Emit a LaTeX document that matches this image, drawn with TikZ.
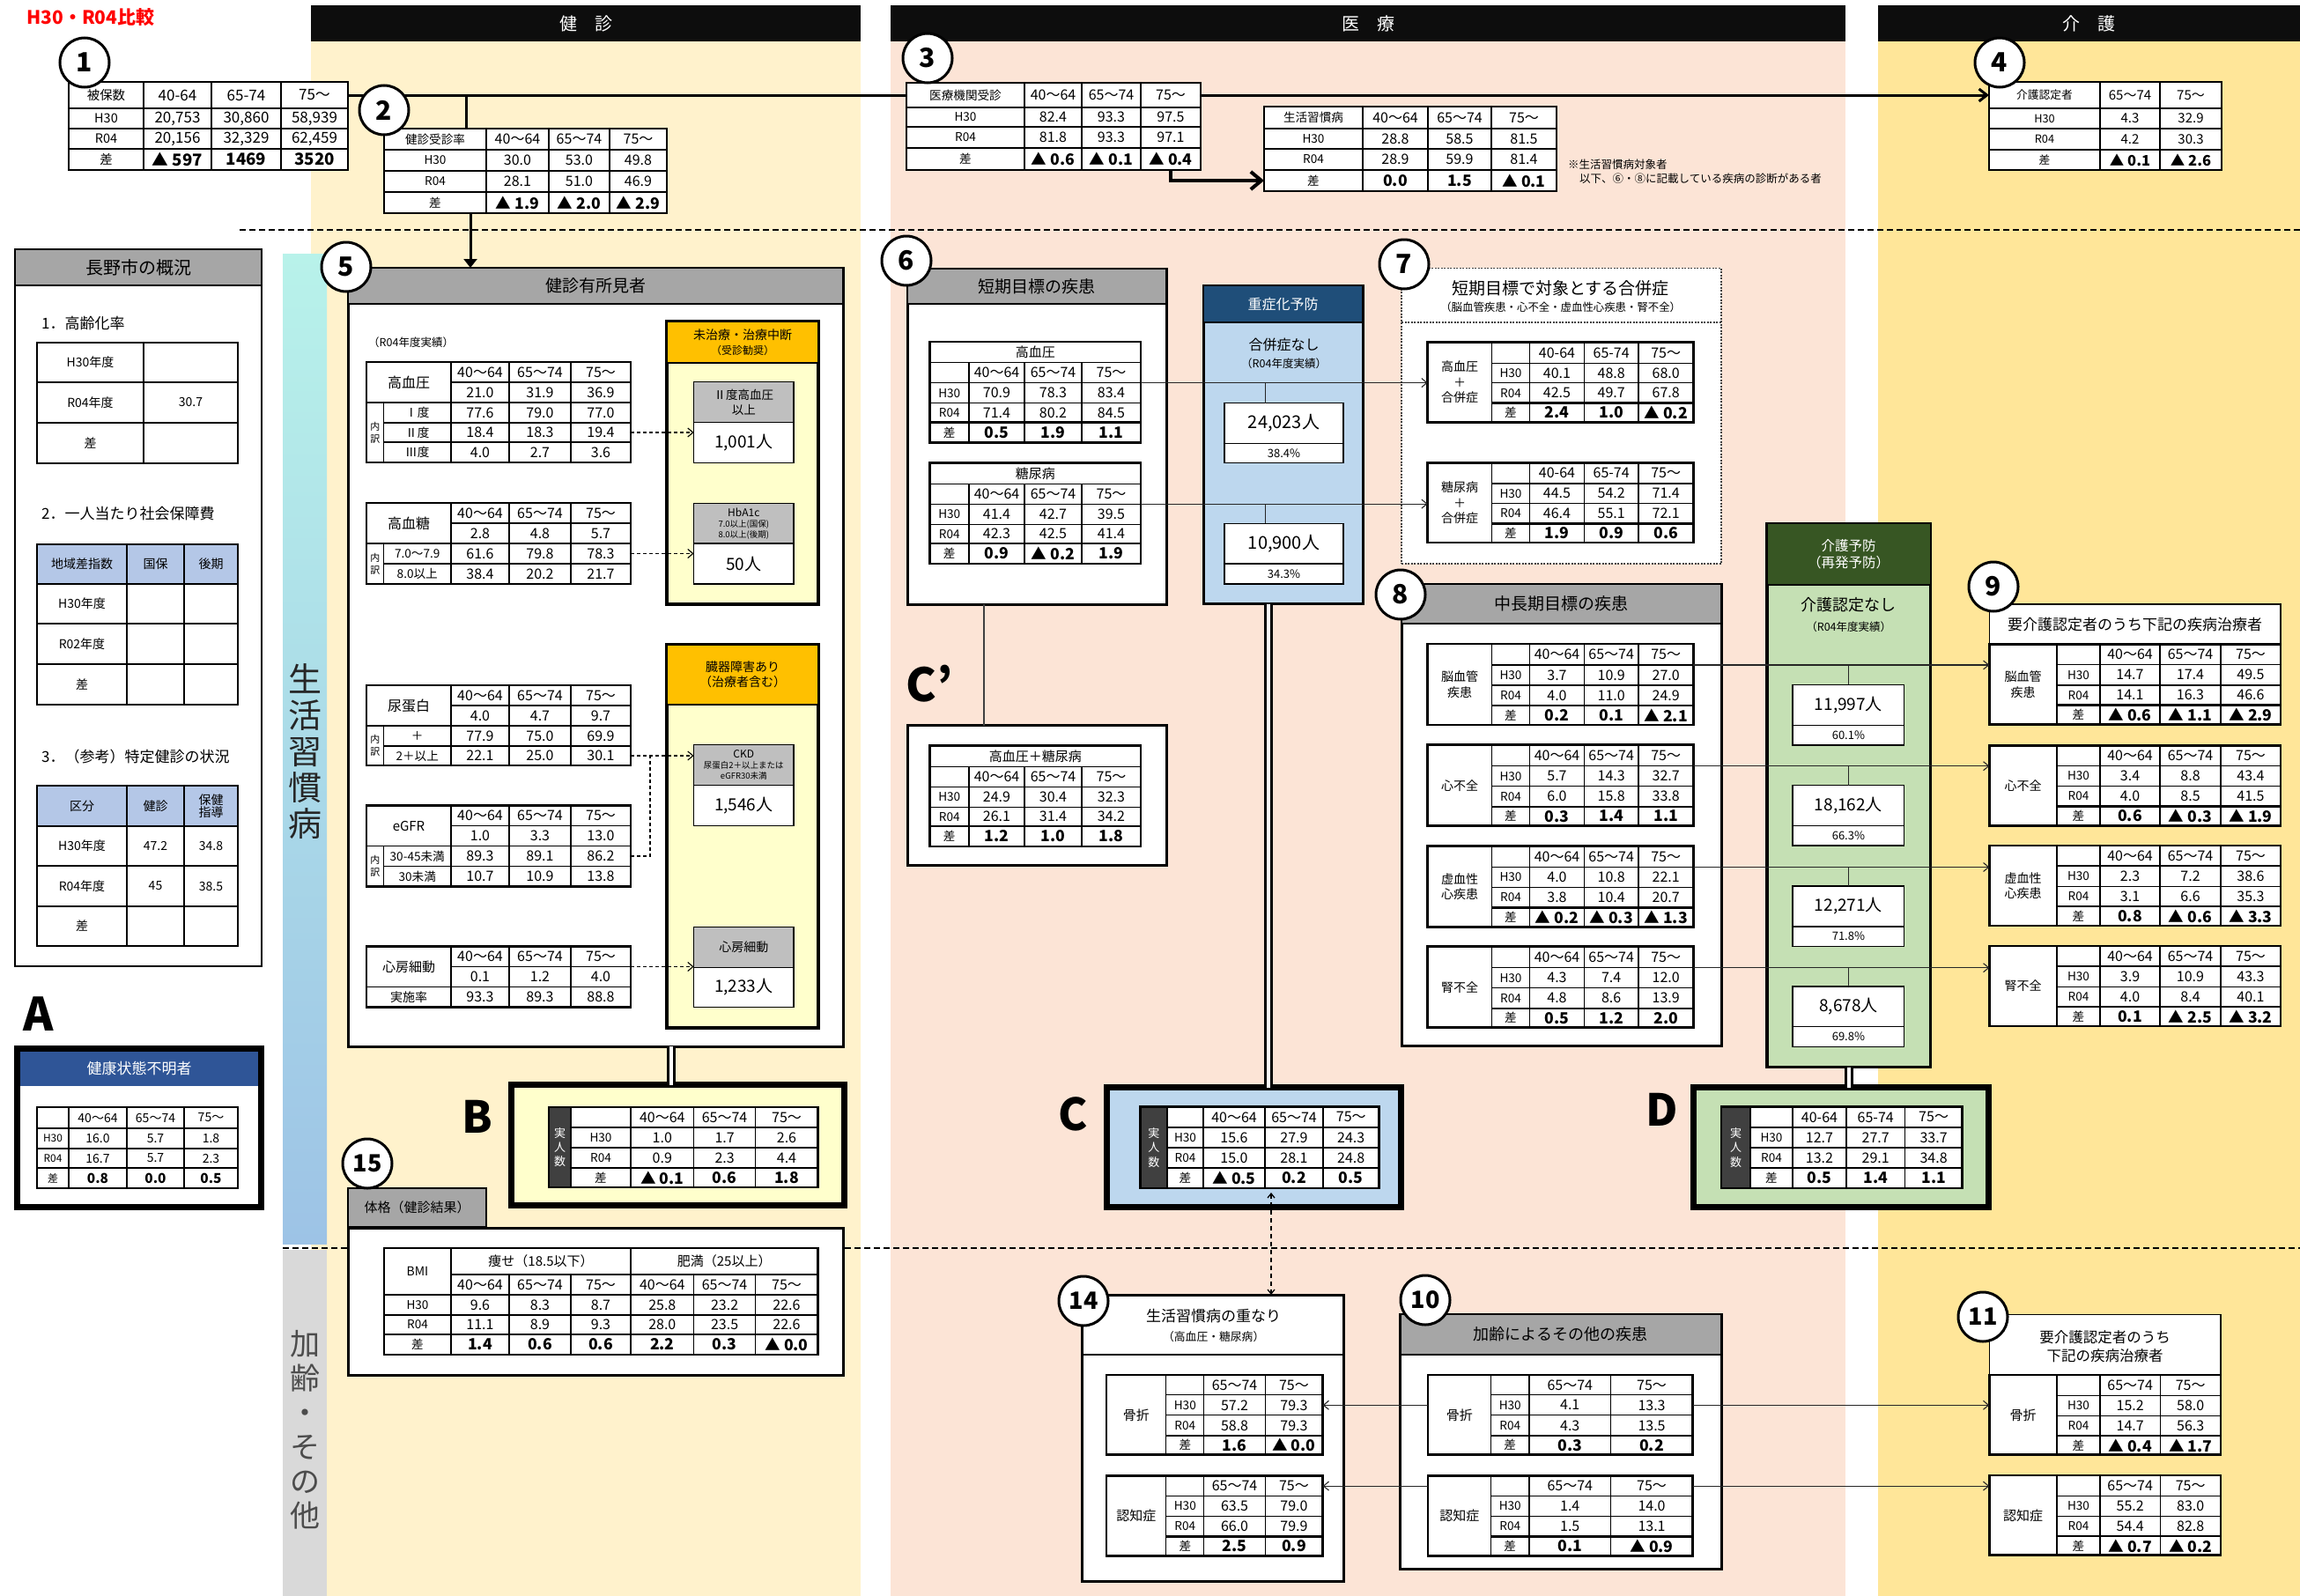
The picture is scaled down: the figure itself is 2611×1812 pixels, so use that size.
\documentclass[tikz,border=0pt]{standalone}
\usepackage{fontspec}
\setmainfont{Noto Sans CJK JP}
\usetikzlibrary{arrows.meta,calc}
\definecolor{bandA}{HTML}{FFF2CC}
\definecolor{bandB}{HTML}{FCE4D6}
\definecolor{bandC}{HTML}{FFE699}
\definecolor{hgrey}{HTML}{A6A6A6}
\definecolor{igrey}{HTML}{BFBFBF}
\definecolor{hblue}{HTML}{B4C7E7}
\definecolor{ablue}{HTML}{2F5597}
\definecolor{zdark}{HTML}{1F4E79}
\definecolor{zlight}{HTML}{BDD7EE}
\definecolor{kdark}{HTML}{375623}
\definecolor{klight}{HTML}{C5E0B4}
\definecolor{orng}{HTML}{FFC000}
\definecolor{lyel}{HTML}{FFFFCC}
\definecolor{dcol}{HTML}{404040}
\definecolor{stripTop}{HTML}{B8F2EA}
\definecolor{stripBot}{HTML}{9DC3E6}
\definecolor{stripGrey}{HTML}{D9D9D9}
\tikzset{
 tcell/.style={draw,line width=1.1pt,inner sep=0pt,outer sep=0pt,align=center},
 tframe/.style={line width=2.6pt},
 tdiff/.style={line width=2.4pt},
 circ/.style={circle,draw,line width=3pt,fill=white,minimum size=56pt,inner sep=0pt,font=\fontsize{30}{30}\selectfont\bfseries},
 hbar/.style={fill=black!95,text=white,font=\fontsize{20}{20}\selectfont,inner sep=0pt,outer sep=0pt,anchor=north west},
 conn/.style={line width=1.1pt,draw=black!85,-{Straight Barb[length=6pt,width=10pt]}},
 dconn/.style={line width=1.1pt,dash pattern=on 4pt off 3pt,-{Straight Barb[length=6pt,width=10pt]}},
 thinline/.style={line width=1.1pt,draw=black!85},
 mainline/.style={line width=3pt},
 dbl/.style={line width=3pt,double=white,double distance=4pt},
 ibox/.style={draw,line width=1.5pt,fill=white},
 hbox/.style={draw,line width=1.5pt,fill=igrey},
}
\def\lscale{0.85}
\def\tblpre{}
% #1 name #2 x0 #3 y0 #4 x bounds #5 y bounds #6 rows #7 size #8 bold row #9 label cols
\newcommand\mtab[9]{%
 \begin{scope}[shift={(#2,#3)}]
  \foreach \v in {#4} {\xdef\lastx{\v}}%
  \foreach \v in {#5} {\xdef\lasty{\v}}%
  \fill[white] (0,0) rectangle (\lastx,\lasty);
  \tblpre
  \pgfmathsetmacro\vsz{#7}\pgfmathsetmacro\bsz{#7*1.1}\pgfmathsetmacro\lsz{#7*\lscale}%
  \foreach \row [count=\r] in {#6} {
   \foreach \cell [count=\c] in \row {
    \expandafter\ifx\expandafter*\cell\relax\else
     \pgfmathsetmacro\xa{{#4}[\c-1]}%
     \pgfmathsetmacro\xb{{#4}[\c]}%
     \pgfmathsetmacro\ya{{#5}[\r-1]}%
     \pgfmathsetmacro\yb{{#5}[\r]}%
     \pgfmathsetmacro\cw{\xb-\xa}%
     \pgfmathsetmacro\ch{\yb-\ya}%
     \ifnum\c>#9\relax
      \ifnum\r=#8\relax \def\tf{\fontsize{\bsz}{\bsz}\selectfont\bfseries}%
      \else \def\tf{\fontsize{\vsz}{\vsz}\selectfont}\fi
     \else \def\tf{\fontsize{\lsz}{\lsz}\selectfont}\fi
     \node[tcell,minimum width=\cw pt,minimum height=\ch pt,font=\tf] (#1-\r-\c) at ({(\xa+\xb)/2},{(\ya+\yb)/2}) {\cell};
    \fi
   }
  }
  \ifnum#8>0\relax
   \pgfmathsetmacro\yd{{#5}[#8-1]}%
   \pgfmathsetmacro\xd{{#4}[#9-1]}%
   \draw[tdiff] (\xd,\yd) -- (\lastx,\yd);
  \fi
  \draw[tframe] (0,0) rectangle (\lastx,\lasty);
 \end{scope}}
\newcommand\mlab[7]{%
 \pgfmathsetmacro\lbs{#7*1.25}%
 \node[tcell,minimum width={#4-#2},minimum height={#5-#3},font=\fontsize{#7}{\lbs}\selectfont] (#1) at ({(#2+#4)/2},{(#3+#5)/2}) {#6};}
\newcommand\rectn[6]{\node[inner sep=0pt,outer sep=0pt,minimum width={#4-#2},minimum height={#5-#3},anchor=north west,#6] (#1) at (#2,#3) {};}
\newcommand\putt[6][]{\pgfmathsetmacro\lbs{#5*1.25}\node[inner sep=0pt,align=center,font=\fontsize{#5}{\lbs}\selectfont,#1] (#2) at (#3,#4) {#6};}
\begin{document}
\begin{tikzpicture}[x=1pt,y=-1pt]
\useasboundingbox (0,0) rectangle (2611,1812);
\fill[white] (0,0) rectangle (2611,1812);
\fill[bandA] (353,47) rectangle (977,1812);
\fill[bandB] (1011,47) rectangle (2095,1812);
\fill[bandC] (2132,47) rectangle (2611,1812);
\node[hbar,minimum width=624pt,minimum height=41pt] (hA) at (353,6) {健　診};
\node[hbar,minimum width=1084pt,minimum height=41pt] (hB) at (1011,6) {医　療};
\node[hbar,minimum width=479pt,minimum height=41pt] (hC) at (2132,6) {介　護};
\putt[anchor=west,text=red]{title}{30}{20}{21}{\bfseries H30・R04比較}
% strips
\shade[top color=stripTop,bottom color=stripBot] (321,288) rectangle (371,1412);
\fill[stripGrey] (321,1419) rectangle (371,1812);
\node[inner sep=0pt,align=center,font=\fontsize{38}{41}\selectfont,text=black!85] (sLife) at (346,853) {生\\活\\習\\慣\\病};
\node[inner sep=0pt,align=center,font=\fontsize{34}{39}\selectfont,text=black!70] (sAge) at (346,1623) {加\\齢\\・\\そ\\の\\他};
\draw[line width=1.3pt,dash pattern=on 7pt off 4pt] (272,261) -- (2611,261);
\draw[line width=1.3pt,dash pattern=on 7pt off 4pt] (321,1417) -- (2611,1417);
% left panel
\rectn{lp}{17}{283}{297}{1097}{draw,line width=2.5pt,fill=white}
\rectn{lph}{17}{283}{297}{324}{draw,line width=2pt,fill=hgrey}
\putt{lpt}{157}{303.5}{20}{長野市の概況}
\putt[anchor=west]{lps1}{47}{367}{17}{1．高齢化率}
{\def\lscale{1}\mtab{tL1}{42}{389}{0,121,228}{0,45,91,137}{{H30年度,{}},{R04年度,30.7},{差,{}}}{14}{0}{1}}
\putt[anchor=west]{lps2}{47}{583}{17}{2．一人当たり社会保障費}
{\def\lscale{1}\def\tblpre{\fill[hblue] (0,0) rectangle (228,45);}\mtab{tL2}{42}{618}{0,102,167,228}{0,45,90,136,182}{{地域差指数,国保,後期},{H30年度,{},{}},{R02年度,{},{}},{差,{},{}}}{14}{0}{1}}
\putt[anchor=west]{lps3}{47}{859}{17}{3．（参考）特定健診の状況}
{\def\lscale{1}\def\tblpre{\fill[hblue] (0,0) rectangle (228,46);}\mtab{tL3}{42}{892}{0,102,167,228}{0,46,91,137,182}{{区分,健診,保健\\指導},{H30年度,47.2,34.8},{R04年度,45,38.5},{差,{},{}}}{14}{0}{1}}
% A
\putt{lA}{44}{1151}{52}{\bfseries A}
\rectn{bA}{19.5}{1190.5}{296.5}{1370.5}{draw,line width=7pt,fill=white}
\rectn{bAh}{23}{1194}{293}{1233}{fill=ablue}
\putt[text=white]{bAt}{158}{1213}{17}{健康状態不明者}
\mtab{tA}{42}{1257}{0,36,102,167,228}{0,24,47,69,92}{{{},40～64,65～74,75～},{H30,16.0,5.7,1.8},{R04,16.7,5.7,2.3},{差,0.8,0.0,0.5}}{14}{4}{1}
% top tables
\mtab{t1}{78}{93}{0,85,162,241,317}{0,30,53,76,100}{{被保数,40-64,65-74,75～},{H30,{20,753},{30,860},{58,939}},{R04,{20,156},{32,329},{62,459}},{差,▲ 597,1469,3520}}{17}{4}{1}
\mtab{t2}{436}{146}{0,116,187,256,321}{0,24,48,72,96}{{健診受診率,40～64,65～74,75～},{H30,30.0,53.0,49.8},{R04,28.1,51.0,46.9},{差,▲ 1.9,▲ 2.0,▲ 2.9}}{16}{4}{1}
\mtab{t3}{1029}{94}{0,134,199,266,334}{0,28,50,74,99}{{医療機関受診,40～64,65～74,75～},{H30,82.4,93.3,97.5},{R04,81.8,93.3,97.1},{差,▲ 0.6,▲ 0.1,▲ 0.4}}{16}{4}{1}
\mtab{tl}{1435}{121}{0,112,186,258,332}{0,25,48,72,96}{{生活習慣病,40～64,65～74,75～},{H30,28.8,58.5,81.5},{R04,28.9,59.9,81.4},{差,0.0,1.5,▲ 0.1}}{16}{4}{1}
\mtab{t4}{2258}{93}{0,126,194,264}{0,30,53,77,100}{{介護認定者,65～74,75～},{H30,4.3,32.9},{R04,4.2,30.3},{差,▲ 0.1,▲ 2.6}}{15}{4}{1}
\putt[anchor=west]{note1}{1780}{187}{12.5}{※生活習慣病対象者}
\putt[anchor=west]{note2}{1793}{203}{12.5}{以下、⑥・⑧に記載している疾病の診断がある者}
% box 5
\rectn{b5}{395}{304}{957}{1188}{draw,line width=3pt,fill=white}
\rectn{b5h}{395}{304}{957}{345}{draw,line width=2pt,fill=hgrey}
\putt{b5t}{676}{324.5}{19}{健診有所見者}
\putt[anchor=west]{b5s}{418}{389}{12.5}{（R04年度実績）}
\mtab{t5a}{416}{411}{0,19.5,96,162,232,300}{0,23,46,69,91,114}{{*,*,40～64,65～74,75～},{*,*,21.0,31.9,36.9},{*,Ⅰ度,77.6,79.0,77.0},{*,Ⅱ度,18.4,18.3,19.4},{*,Ⅲ度,4.0,2.7,3.6}}{16}{0}{2}
\mlab{t5a-L}{416}{411}{512}{457}{高血圧}{16}
\mlab{t5a-U}{416}{457}{435.5}{525}{内\\訳}{11}
\mtab{t5b}{416}{571}{0,19.5,96,162,232,300}{0,23,46,69,92}{{*,*,40～64,65～74,75～},{*,*,2.8,4.8,5.7},{*,7.0～7.9,61.6,79.8,78.3},{*,8.0以上,38.4,20.2,21.7}}{16}{0}{2}
\mlab{t5b-L}{416}{571}{512}{617}{高血糖}{16}
\mlab{t5b-U}{416}{617}{435.5}{663}{内\\訳}{11}
\mtab{t5c}{416}{778}{0,19.5,96,162,232,300}{0,23,46,69,91}{{*,*,40～64,65～74,75～},{*,*,4.0,4.7,9.7},{*,＋,77.9,75.0,69.9},{*,2＋以上,22.1,25.0,30.1}}{16}{0}{2}
\mlab{t5c-L}{416}{778}{512}{824}{尿蛋白}{16}
\mlab{t5c-U}{416}{824}{435.5}{869}{内\\訳}{11}
\mtab{t5d}{416}{914.5}{0,19.5,96,162,232,300}{0,23,46,69,92}{{*,*,40～64,65～74,75～},{*,*,1.0,3.3,13.0},{*,30-45未満,89.3,89.1,86.2},{*,30未満,10.7,10.9,13.8}}{16}{0}{2}
\mlab{t5d-L}{416}{914.5}{512}{960.5}{eGFR}{15}
\mlab{t5d-U}{416}{960.5}{435.5}{1006.5}{内\\訳}{11}
\mtab{t5e}{416}{1074.5}{0,19.5,96,162,232,300}{0,23,46,69}{{*,*,40～64,65～74,75～},{*,*,0.1,1.2,4.0},{*,*,93.3,89.3,88.8}}{16}{0}{2}
\mlab{t5e-L}{416}{1074.5}{512}{1120.5}{心房細動}{15}
\mlab{t5e-U}{416}{1120.5}{512}{1143.5}{実施率}{14}
\rectn{b5r1}{757}{365}{929}{686}{draw,line width=4pt,fill=lyel}
\rectn{b5r1h}{757}{365}{929}{412}{draw,line width=2pt,fill=orng}
\putt{b5r1t}{843}{388.5}{14}{未治療・治療中断\\{\fontsize{12}{14}\selectfont （受診勧奨）}}
\rectn{i5a}{787.6}{433.5}{901}{479.4}{hbox}
\rectn{i5ab}{787.6}{479.4}{901}{525.4}{ibox}
\putt{i5at}{844.3}{456.5}{13.5}{Ⅱ度高血圧\\以上}
\putt{i5abt}{844.3}{502.4}{19}{1,001人}
\rectn{i5b}{787.6}{571.3}{901}{617.2}{hbox}
\rectn{i5bb}{787.6}{617.2}{901}{663}{ibox}
\putt{i5bt}{844.3}{594.3}{9.5}{{\fontsize{12}{12}\selectfont HbA1c}\\7.0以上(国保)\\8.0以上(後期)}
\putt{i5bbt}{844.3}{640.1}{19}{50人}
\rectn{b5r2}{757}{732}{929}{1167}{draw,line width=4pt,fill=lyel}
\rectn{b5r2h}{757}{732}{929}{800}{draw,line width=2pt,fill=orng}
\putt{b5r2t}{843}{766}{14}{臓器障害あり\\（治療者含む）}
\rectn{i5c}{787.6}{845.7}{901}{891.6}{hbox}
\rectn{i5cb}{787.6}{891.6}{901}{937.5}{ibox}
\putt{i5ct}{844.3}{868.6}{9.5}{{\fontsize{12}{12}\selectfont CKD}\\尿蛋白2＋以上または\\eGFR30未満}
\putt{i5cbt}{844.3}{914.5}{19}{1,546人}
\rectn{i5e}{787.6}{1052.3}{901}{1098.3}{hbox}
\rectn{i5eb}{787.6}{1098.3}{901}{1143.6}{ibox}
\putt{i5et}{844.3}{1075.3}{14}{心房細動}
\putt{i5ebt}{844.3}{1121}{19}{1,233人}
% B
\rectn{bB}{580.5}{1231.5}{958.2}{1368.5}{draw,line width=7pt,fill=lyel}
\putt{lB}{542}{1268}{50}{\bfseries B}
\rectn{dB}{623}{1257}{648}{1348}{fill=dcol,draw,line width=2pt}
\putt[text=white]{dBt}{635.5}{1302.5}{13}{実\\人\\数}
\mtab{tB}{648}{1257}{0,68,139.6,209.6,280.4}{0,23,46,69,91}{{{},40～64,65～74,75～},{H30,1.0,1.7,2.6},{R04,0.9,2.3,4.4},{差,▲ 0.1,0.6,1.8}}{16}{4}{1}
\draw[tframe] (623,1257) rectangle (928.4,1348);
% 15
\rectn{b15}{395}{1394}{957}{1561}{draw,line width=3pt,fill=white}
\rectn{b15h}{395}{1349}{552}{1393}{draw,line width=2.5pt,fill=hgrey}
\putt{b15t}{473.5}{1371}{15}{体格（健診結果）}
\mtab{t15}{436}{1417}{0,76,142,212,280,351.6,421.6,492.4}{0,30,53,76,98,121}{{*,*,*,*,*,*,*},{*,40～64,65～74,75～,40～64,65～74,75～},{H30,9.6,8.3,8.7,25.8,23.2,22.6},{R04,11.1,8.9,9.3,28.0,23.5,22.6},{差,1.4,0.6,0.6,2.2,0.3,▲ 0.0}}{16}{5}{1}
\mlab{t15-b}{436}{1417}{512}{1470}{BMI}{14}
\mlab{t15-y}{512}{1417}{716}{1447}{痩せ（18.5以下）}{15}
\mlab{t15-h}{716}{1417}{928.4}{1447}{肥満（25以上）}{15}
% box 6
\rectn{b6}{1030}{305}{1324}{686}{draw,line width=3pt,fill=white}
\rectn{b6h}{1030}{305}{1324}{345}{draw,line width=2pt,fill=hgrey}
\putt{b6t}{1177}{325}{19}{短期目標の疾患}
\mtab{t6a}{1055.5}{388}{0,44.5,107.5,172.5,239.5}{0,23.7,46.6,69.6,91.6,114.6}{{*,*,*,*},{{},40～64,65～74,75～},{H30,70.9,78.3,83.4},{R04,71.4,80.2,84.5},{差,0.5,1.9,1.1}}{16}{5}{1}
\mlab{t6a-T}{1055.5}{388}{1295}{411.7}{高血圧}{15}
\mtab{t6b}{1055.5}{525.5}{0,44.5,107.5,172.5,239.5}{0,23.7,46.6,69.6,91.6,114.6}{{*,*,*,*},{{},40～64,65～74,75～},{H30,41.4,42.7,39.5},{R04,42.3,42.5,41.4},{差,0.9,▲ 0.2,1.9}}{16}{5}{1}
\mlab{t6b-T}{1055.5}{525.5}{1295}{549.2}{糖尿病}{15}
\rectn{bcp}{1030}{823.5}{1324}{982}{draw,line width=3pt,fill=white}
\mtab{tcp}{1055.5}{846.5}{0,44.5,107.5,172.5,239.5}{0,23.7,46.6,69.6,91.6,114.6}{{*,*,*,*},{{},40～64,65～74,75～},{H30,24.9,30.4,32.3},{R04,26.1,31.4,34.2},{差,1.2,1.0,1.8}}{16}{5}{1}
\mlab{tcp-T}{1055.5}{846.5}{1295}{870.2}{高血圧＋糖尿病}{15}
\putt{lcp}{1055}{776}{52}{\bfseries C’}
% 重症化予防
\rectn{bz}{1366}{324.4}{1547}{685.8}{draw,line width=3pt,fill=zlight}
\rectn{bzh}{1366}{324.4}{1547}{365.8}{draw,line width=2pt,fill=zdark}
\putt[text=white]{bzt}{1456.5}{345}{16}{重症化予防}
\putt{bzs}{1457.6}{401}{16}{合併症なし\\{\fontsize{12.5}{14}\selectfont （R04年度実績）}}
\rectn{z1}{1390}{457.6}{1525}{503.5}{ibox}
\rectn{z1p}{1390}{503.5}{1525}{525.5}{ibox}
\putt{z1t}{1457.5}{480.5}{20}{24,023人}
\putt{z1pt}{1457.5}{514.5}{13}{38.4\%}
\rectn{z2}{1390}{594.4}{1525}{640}{ibox}
\rectn{z2p}{1390}{640}{1525}{662.8}{ibox}
\putt{z2t}{1457.5}{617.2}{20}{10,900人}
\putt{z2pt}{1457.5}{651.4}{13}{34.3\%}
% C
\rectn{bC}{1256.1}{1234.5}{1590.5}{1370.5}{draw,line width=7pt,fill=zlight}
\putt{lC}{1218}{1265}{50}{\bfseries C}
\rectn{dC}{1294.7}{1256.7}{1325}{1349}{fill=dcol,draw,line width=2pt}
\putt[text=white]{dCt}{1309.9}{1302.9}{13}{実\\人\\数}
\mtab{tC}{1325}{1256.7}{0,41,111,177,240.5}{0,23.3,46.3,69,92.3}{{{},40～64,65～74,75～},{H30,15.6,27.9,24.3},{R04,15.0,28.1,24.8},{差,▲ 0.5,0.2,0.5}}{16}{4}{1}
\draw[tframe] (1294.7,1256.7) rectangle (1565.5,1349);
% box 7
\rectn{b7}{1591}{304.4}{1954}{640}{draw=black!75,line width=1.5pt,dash pattern=on 2pt off 1.5pt,fill=white}
\draw[black!75,line width=1.5pt,dash pattern=on 2pt off 1.5pt] (1591,365.8) -- (1954,365.8);
\putt{b7t}{1771.7}{327}{19}{短期目標で対象とする合併症}
\putt{b7s}{1771.7}{349}{12.4}{（脳血管疾患・心不全・虚血性心疾患・腎不全）}
\mtab{t7a}{1620.7}{388.7}{0,72.6,116,177.6,239.3,301.6}{0,23.6,46,68.9,90.7}{{*,{},40-64,65-74,75～},{*,H30,40.1,48.8,68.0},{*,R04,42.5,49.7,67.8},{*,差,2.4,1.0,▲ 0.2}}{16}{4}{2}
\mlab{l7a}{1620.7}{388.7}{1693.3}{479.4}{高血圧\\＋\\合併症}{14}
\mtab{t7b}{1620.7}{525.4}{0,72.6,116,177.6,239.3,301.6}{0,23.6,46,68.9,90.7}{{*,{},40-64,65-74,75～},{*,H30,44.5,54.2,71.4},{*,R04,46.4,55.1,72.1},{*,差,1.9,0.9,0.6}}{16}{4}{2}
\mlab{l7b}{1620.7}{525.4}{1693.3}{616.1}{糖尿病\\＋\\合併症}{14}
% box 8
\rectn{b8}{1591}{663}{1954}{1187}{draw,line width=3pt,fill=white}
\rectn{b8h}{1591}{663}{1954}{708}{draw,line width=2pt,fill=hgrey}
\putt{b8t}{1772}{685.5}{19}{中長期目標の疾患}
\mtab{t8a}{1620.7}{731}{0,72.6,116,177.6,239.3,301.6}{0,24,47,70,92}{{*,{},40～64,65～74,75～},{*,H30,3.7,10.9,27.0},{*,R04,4.0,11.0,24.9},{*,差,0.2,0.1,▲ 2.1}}{16}{4}{2}
\mlab{l8a}{1620.7}{731}{1693.3}{823}{脳血管\\疾患}{14}
\mtab{t8b}{1620.7}{845.7}{0,72.6,116,177.6,239.3,301.6}{0,24,47,70,92}{{*,{},40～64,65～74,75～},{*,H30,5.7,14.3,32.7},{*,R04,6.0,15.8,33.8},{*,差,0.3,1.4,1.1}}{16}{4}{2}
\mlab{l8b}{1620.7}{845.7}{1693.3}{937.7}{心不全}{14}
\mtab{t8c}{1620.7}{960.5}{0,72.6,116,177.6,239.3,301.6}{0,24,47,70,92}{{*,{},40～64,65～74,75～},{*,H30,4.0,10.8,22.1},{*,R04,3.8,10.4,20.7},{*,差,▲ 0.2,▲ 0.3,▲ 1.3}}{16}{4}{2}
\mlab{l8c}{1620.7}{960.5}{1693.3}{1052.5}{虚血性\\心疾患}{14}
\mtab{t8d}{1620.7}{1074.7}{0,72.6,116,177.6,239.3,301.6}{0,24,47,70,92}{{*,{},40～64,65～74,75～},{*,H30,4.3,7.4,12.0},{*,R04,4.8,8.6,13.9},{*,差,0.5,1.2,2.0}}{16}{4}{2}
\mlab{l8d}{1620.7}{1074.7}{1693.3}{1166.7}{腎不全}{14}
% 介護予防
\rectn{bk}{2005.8}{594.3}{2191.7}{1211.6}{draw,line width=3.5pt,fill=klight}
\rectn{bkh}{2005.8}{594.3}{2191.7}{664}{draw,line width=2pt,fill=kdark}
\putt[text=white]{bkt}{2098.7}{629}{15.5}{介護予防\\（再発予防）}
\putt{bks}{2098.7}{698}{18}{介護認定なし\\{\fontsize{12.5}{14}\selectfont （R04年度実績）}}
\rectn{k1}{2035}{777.4}{2161.7}{823.4}{ibox}
\rectn{k1p}{2035}{823.4}{2161.7}{845.8}{ibox}
\putt{k1t}{2098.4}{800.4}{19}{11,997人}
\putt{k1pt}{2098.4}{834.6}{13}{60.1\%}
\rectn{k2}{2035}{891.7}{2161.7}{937.7}{ibox}
\rectn{k2p}{2035}{937.7}{2161.7}{960}{ibox}
\putt{k2t}{2098.4}{914.7}{19}{18,162人}
\putt{k2pt}{2098.4}{948.9}{13}{66.3\%}
\rectn{k3}{2035}{1006}{2161.7}{1052}{ibox}
\rectn{k3p}{2035}{1052}{2161.7}{1074.4}{ibox}
\putt{k3t}{2098.4}{1029}{19}{12,271人}
\putt{k3pt}{2098.4}{1063.2}{13}{71.8\%}
\rectn{k4}{2035}{1119.8}{2161.7}{1165.7}{ibox}
\rectn{k4p}{2035}{1165.7}{2161.7}{1188.7}{ibox}
\putt{k4t}{2098.4}{1142.8}{19}{8,678人}
\putt{k4pt}{2098.4}{1177.2}{13}{69.8\%}
% D
\rectn{bD}{1922.5}{1234.5}{2257.2}{1370.5}{draw,line width=7pt,fill=klight}
\putt{lD}{1887}{1260}{50}{\bfseries D}
\rectn{dD}{1954}{1256.7}{1987}{1349}{fill=dcol,draw,line width=2pt}
\putt[text=white]{dDt}{1970.5}{1302.9}{13}{実\\人\\数}
\mtab{tD}{1987}{1256.7}{0,48,109,175.5,240.7}{0,23.3,46.3,69,92.3}{{{},40-64,65-74,75～},{H30,12.7,27.7,33.7},{R04,13.2,29.1,34.8},{差,0.5,1.4,1.1}}{16}{4}{1}
\draw[tframe] (1954,1256.7) rectangle (2227.7,1349);
% 9
\rectn{b9h}{2258.4}{686}{2589}{731.5}{draw,line width=1.5pt,fill=white}
\putt{b9t}{2423.7}{708.8}{17}{要介護認定者のうち下記の疾病治療者}
\mtab{t9a}{2258.4}{731.5}{0,76.6,125.6,193.6,262.6,330.6}{0,23,46.5,69,91}{{*,{},40～64,65～74,75～},{*,H30,14.7,17.4,49.5},{*,R04,14.1,16.3,46.6},{*,差,▲ 0.6,▲ 1.1,▲ 2.9}}{16}{4}{2}
\mlab{l9a}{2258.4}{731.5}{2335}{822.5}{脳血管\\疾患}{14}
\mtab{t9b}{2258.4}{846.3}{0,76.6,125.6,193.6,262.6,330.6}{0,23,46.5,69,91}{{*,{},40～64,65～74,75～},{*,H30,3.4,8.8,43.4},{*,R04,4.0,8.5,41.5},{*,差,0.6,▲ 0.3,▲ 1.9}}{16}{4}{2}
\mlab{l9b}{2258.4}{846.3}{2335}{937.3}{心不全}{14}
\mtab{t9c}{2258.4}{960}{0,76.6,125.6,193.6,262.6,330.6}{0,23,46.5,69,91}{{*,{},40～64,65～74,75～},{*,H30,2.3,7.2,38.6},{*,R04,3.1,6.6,35.3},{*,差,0.8,▲ 0.6,▲ 3.3}}{16}{4}{2}
\mlab{l9c}{2258.4}{960}{2335}{1051}{虚血性\\心疾患}{14}
\mtab{t9d}{2258.4}{1074}{0,76.6,125.6,193.6,262.6,330.6}{0,23,46.5,69,91}{{*,{},40～64,65～74,75～},{*,H30,3.9,10.9,43.3},{*,R04,4.0,8.4,40.1},{*,差,0.1,▲ 2.5,▲ 3.2}}{16}{4}{2}
\mlab{l9d}{2258.4}{1074}{2335}{1165}{腎不全}{14}
% 14
\rectn{b14}{1228}{1470}{1525}{1795}{draw,line width=3pt,fill=white}
\draw[line width=2pt] (1228,1538) -- (1525,1538);
\putt{b14t}{1377.7}{1505}{17}{生活習慣病の重なり\\{\fontsize{12.8}{14}\selectfont （高血圧・糖尿病）}}
\mtab{t14a}{1255.8}{1561}{0,68,111,180.5,245.8}{0,22.8,45.8,68.8,90.6}{{*,{},65～74,75～},{*,H30,57.2,79.3},{*,R04,58.8,79.3},{*,差,1.6,▲ 0.0}}{16}{4}{2}
\mlab{l14a}{1255.8}{1561}{1323.8}{1651.6}{骨折}{15}
\mtab{t14b}{1255.8}{1675.7}{0,68,111,180.5,245.8}{0,22.8,45.8,68.8,90.6}{{*,{},65～74,75～},{*,H30,63.5,79.0},{*,R04,66.0,79.9},{*,差,2.5,0.9}}{16}{4}{2}
\mlab{l14b}{1255.8}{1675.7}{1323.8}{1766.3}{認知症}{15}
% 10
\rectn{b10}{1589.5}{1492}{1954}{1781.7}{draw,line width=3pt,fill=white}
\rectn{b10h}{1589.5}{1492}{1954}{1538}{draw,line width=2pt,fill=hgrey}
\putt{b10t}{1771.7}{1515}{18}{加齢によるその他の疾患}
\mtab{t10a}{1621}{1561}{0,71.5,115,207.5,300.6}{0,22.8,45.8,68.8,90.6}{{*,{},65～74,75～},{*,H30,4.1,13.3},{*,R04,4.3,13.5},{*,差,0.3,0.2}}{16}{4}{2}
\mlab{l10a}{1621}{1561}{1692.5}{1651.6}{骨折}{15}
\mtab{t10b}{1621}{1675.7}{0,71.5,115,207.5,300.6}{0,22.8,45.8,68.8,90.6}{{*,{},65～74,75～},{*,H30,1.4,14.0},{*,R04,1.5,13.1},{*,差,0.1,▲ 0.9}}{16}{4}{2}
\mlab{l10b}{1621}{1675.7}{1692.5}{1766.3}{認知症}{15}
% 11
\rectn{b11h}{2258.3}{1492.7}{2521}{1561}{draw,line width=1.5pt,fill=white}
\putt{b11t}{2389.6}{1528.5}{16.5}{要介護認定者のうち\\下記の疾病治療者}
\mtab{t11a}{2258.3}{1561}{0,76.7,125.7,194,262.7}{0,23.3,46.3,69,90.7}{{*,{},65～74,75～},{*,H30,15.2,58.0},{*,R04,14.7,56.3},{*,差,▲ 0.4,▲ 1.7}}{16}{4}{2}
\mlab{l11a}{2258.3}{1561}{2335}{1651.7}{骨折}{15}
\mtab{t11b}{2258.3}{1675}{0,76.7,125.7,194,262.7}{0,23.3,46.3,69,90.7}{{*,{},65～74,75～},{*,H30,55.2,83.0},{*,R04,54.4,82.8},{*,差,▲ 0.7,▲ 0.2}}{16}{4}{2}
\mlab{l11b}{2258.3}{1675}{2335}{1765.7}{認知症}{15}
% connectors
\coordinate (j1) at (529,0);
\coordinate (a2) at (534,0);
\draw[mainline] (t1-1-4.east) -- (t3-1-1.west);
\draw[mainline,-{Straight Barb[length=9pt,width=14pt]}] (t3-1-4.east) -- (t4-1-1.west);
\draw[mainline] (j1 |- t1-1-4.east) -- (j1 |- t2-1-1.north);
\draw[mainline,-{Triangle[length=10pt,width=15pt]}] (a2 |- t2-4-1.south) -- (a2 |- b5.north);
\draw[line width=4pt,-{Straight Barb[length=12pt,width=20pt]}] (t3-4-4.south) |- (tl-4-1.west);
\draw[dconn] (t5a-4-5.east) -- (t5a-4-5.east -| i5ab.west);
\draw[dconn] (t5b-3-5.east) -- (t5b-3-5.east -| i5bb.west);
\draw[dconn] (t5c-4-5.east) -- (t5c-4-5.east -| i5c.west);
\coordinate (c5d) at (738,0);
\draw[dconn,-] (t5d-3-5.east) -| (c5d |- t5c-4-5.east);
\draw[dconn] (t5e-1-5.south east) -- (t5e-1-5.south east -| i5e.west);
\draw[conn] (t6a-2-4.south east) -- (t6a-2-4.south east -| l7a.west);
\draw[conn] (t6b-2-4.south east) -- (t6b-2-4.south east -| l7b.west);
\coordinate (zx) at (1436.5,0);
\draw[thinline] (zx |- t6a-2-4.south east) -- (zx |- z1.north);
\draw[thinline] (zx |- t6b-2-4.south east) -- (zx |- z2.north);
\coordinate (cpx) at (1117,0);
\draw[line width=1.3pt,black!75] (cpx |- b6.south) -- (cpx |- bcp.north);
\coordinate (bbx) at (762,0);
\draw[dbl] (bbx |- b5.south) -- (bbx |- bB.north);
\coordinate (zcx) at (1440,0);
\draw[dbl] (zcx |- bz.south) -- (zcx |- bC.north);
\draw[dbl] (bk.south) -- (bk.south |- bD.north);
\foreach \s/\k in {a/k1,b/k2,c/k3,d/k4} {
  \draw[conn] (t8\s-1-5.south east) -- (t8\s-1-5.south east -| l9\s.west);
  \draw[thinline] (\k.north |- t8\s-1-5.south east) -- (\k.north);
}
\draw[conn] (t14a-2-4.east -| l10a.west) -- (t14a-2-4.east);
\draw[conn] (t14b-1-4.east -| l10b.west) -- (t14b-1-4.east);
\draw[conn] (t10a-2-4.east) -- (t10a-2-4.east -| l11a.west);
\draw[conn] (t10b-1-4.east) -- (t10b-1-4.east -| l11b.west);
\coordinate (dcx) at (1443,0);
\draw[line width=1.3pt,dash pattern=on 5pt off 4pt,{Straight Barb[length=5pt,width=8pt]}-{Straight Barb[length=5pt,width=8pt]}] ($(dcx |- tC-4-3.south)+(0,5)$) -- (dcx |- b14.north);
% circles
\node[circ] (c1) at (96,71) {1};
\node[circ] (c2) at (436,125) {2};
\node[circ] (c3) at (1053,66) {3};
\node[circ] (c4) at (2270,71) {4};
\node[circ] (c5) at (393,303) {5};
\node[circ] (c6) at (1029,296) {6};
\node[circ] (c7) at (1594,300) {7};
\node[circ] (c8) at (1590,675) {8};
\node[circ] (c9) at (2263,666) {9};
\node[circ,font=\fontsize{27}{27}\selectfont\bfseries] (c10) at (1618,1476) {10};
\node[circ,font=\fontsize{27}{27}\selectfont\bfseries] (c11) at (2251,1495) {11};
\node[circ,font=\fontsize{27}{27}\selectfont\bfseries] (c14) at (1230,1477) {14};
\node[circ,font=\fontsize{27}{27}\selectfont\bfseries] (c15) at (417,1321) {15};
\end{tikzpicture}
\end{document}
